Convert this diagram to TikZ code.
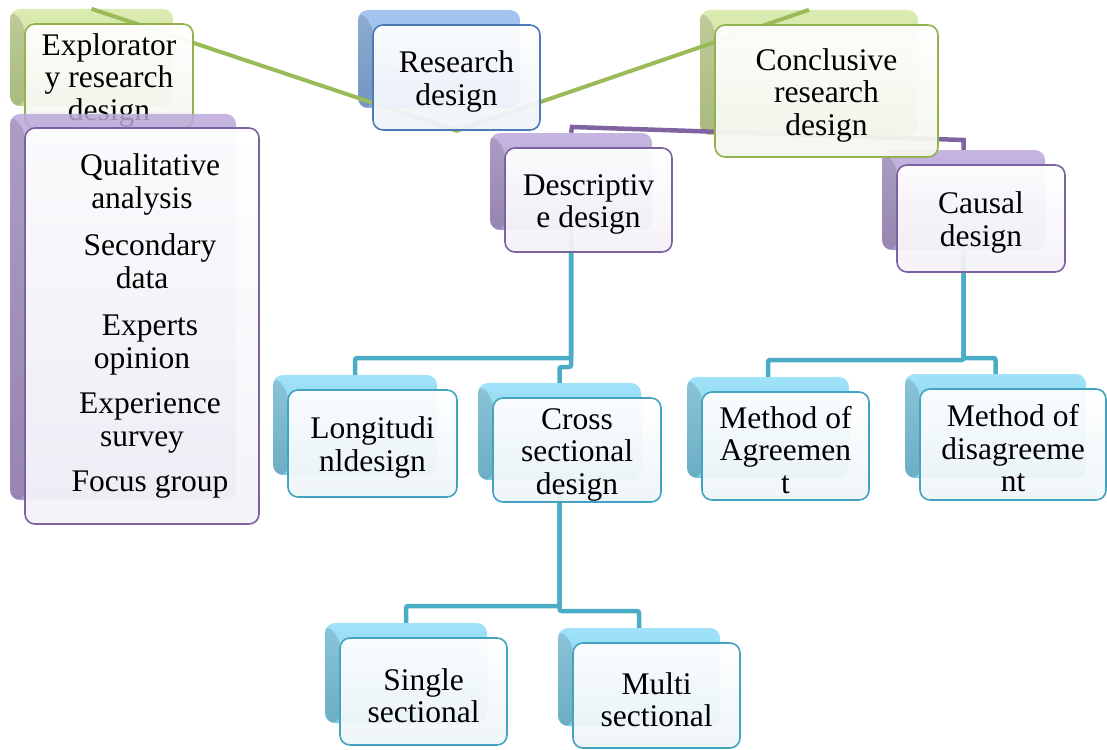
\documentclass[tikz,border=0pt]{standalone}
\usepackage{fontspec}
\setmainfont{Liberation Serif}
\usetikzlibrary{calc}
\pgfdeclarelayer{back}
\pgfdeclarelayer{conn}
\pgfdeclarelayer{top}
\pgfsetlayers{back,conn,main,top}

\definecolor{aquaL}{HTML}{8FDDF8}\definecolor{aquaD}{HTML}{66BEDC}\definecolor{aquaB}{HTML}{44A3C0}\definecolor{aquaF}{HTML}{EEF5F8}
\definecolor{purL}{HTML}{BBA8DB}\definecolor{purD}{HTML}{9E88C3}\definecolor{purB}{HTML}{7D62A1}\definecolor{purF}{HTML}{F4F1F8}
\definecolor{grnL}{HTML}{D5E8A4}\definecolor{grnD}{HTML}{B6CF7B}\definecolor{grnB}{HTML}{92B24F}\definecolor{grnF}{HTML}{F4F6EE}
\definecolor{bluL}{HTML}{95BCEE}\definecolor{bluD}{HTML}{719DD9}\definecolor{bluB}{HTML}{4A7BB7}\definecolor{bluF}{HTML}{EFF2F8}
\definecolor{lineA}{HTML}{4BACC6}\definecolor{lineP}{HTML}{8064A2}\definecolor{lineG}{HTML}{9BBB59}

\newcommand\nodefont{\fontsize{31.5}{32.5}\selectfont}

\tikzset{
  backbox/.style={rounded corners=10pt, top color=#1L, bottom color=#1D, draw=none,
    fill opacity=0.85, inner sep=0pt,
    path picture={\fill[black, opacity=0.13]
      (path picture bounding box.north west)
      -- ([xshift=15pt,yshift=-15pt]path picture bounding box.north west)
      -- ([xshift=15pt]path picture bounding box.south west)
      -- (path picture bounding box.south west) -- cycle;}},
  frontbox/.style={rounded corners=10pt, draw=#1B, line width=1.6pt,
    top color=white, bottom color=#1F, fill opacity=0.94, text opacity=1,
    inner sep=0pt, align=center, font=\nodefont, text=black},
  aline/.style={draw=lineA, line width=4.5pt, rounded corners=2pt},
  pline/.style={draw=lineP, line width=4.5pt},
  gline/.style={draw=lineG, line width=4pt},
}

% name, colour, cx, cy, w, h, text
\newcommand\duo[7]{%
  \begin{pgfonlayer}{back}
    \node[backbox=#2, minimum width={#5pt-5pt}, minimum height={#6pt-7pt}] (#1-b) at ({#3-17.5},{#4-18.5}) {};
  \end{pgfonlayer}
  \node[frontbox=#2, minimum width={#5pt}, minimum height={#6pt}] (#1) at (#3,#4) {\rule{0pt}{30pt}#7};
}

\begin{document}
\begin{tikzpicture}[x=1pt,y=-1pt]
\useasboundingbox (0,0) rectangle (1107,749);

\duo{ex}{grn}{109}{76}{168}{104}{Explorator\\y research\\design}
\duo{rd}{blu}{456.5}{77.5}{167}{105}{Research\\design}
\duo{cr}{grn}{826.5}{91}{223}{132}{Conclusive\\research\\design}
\duo{dd}{pur}{588.5}{200}{167}{104}{Descriptiv\\e design}
\duo{cd}{pur}{981}{218.5}{168}{107}{Causal\\design}
\duo{ld}{aqua}{372.5}{443.5}{169}{107}{Longitudi\\nldesign}
\duo{cs}{aqua}{577}{450}{168}{104}{Cross\\sectional\\design}
\duo{ag}{aqua}{785.5}{446}{167}{108}{Method of\\Agreemen\\t}
\duo{dg}{aqua}{1013}{444.5}{186}{111}{Method of\\disagreeme\\nt}
\duo{ss}{aqua}{423.5}{691.5}{167}{107}{Single\\sectional}
\duo{ms}{aqua}{656.5}{695.5}{167}{105}{Multi\\sectional}

\begin{pgfonlayer}{top}
  \node[backbox=pur, minimum width=226pt, minimum height=386pt] (ls-b) at (123,307) {};
  \node[frontbox=pur, minimum width=234pt, minimum height=396pt] (ls) at (142,326)
    {\hspace*{16pt}Qualitative\\analysis\\[15pt]
     \hspace*{16pt}Secondary\\data\\[15pt]
     \hspace*{16pt}Experts\\opinion\\[13pt]
     \hspace*{16pt}Experience\\survey\\[13pt]
     \hspace*{16pt}Focus group};
\end{pgfonlayer}

\coordinate (dj1) at (460,358);
\coordinate (dj2) at (565,367);
\coordinate (cj1) at (860,360);
\coordinate (cj2) at (980,358);
\coordinate (sj1) at (480,606);
\coordinate (sj2) at (600,611);
\coordinate (pa) at (572,127);
\coordinate (pb) at (963.5,140);

\begin{pgfonlayer}{conn}
  \draw[gline] (ex-b.north) -- (rd.south) -- (cr-b.north);
  \draw[pline] (dd-b.north) -- (pa) -- (pb) -- (cd-b.north);
  \draw[aline] (dd-b.south) |- (dj1) -| (ld-b.north);
  \draw[aline] (dd-b.south) |- (dj2) -| (cs-b.north);
  \draw[aline] (cd-b.south) |- (cj1) -| (ag-b.north);
  \draw[aline] (cd-b.south) |- (cj2) -| (dg-b.north);
  \draw[aline] (cs-b.south) |- (sj1) -| (ss-b.north);
  \draw[aline] (cs-b.south) |- (sj2) -| (ms-b.north);
\end{pgfonlayer}
\end{tikzpicture}
\end{document}
